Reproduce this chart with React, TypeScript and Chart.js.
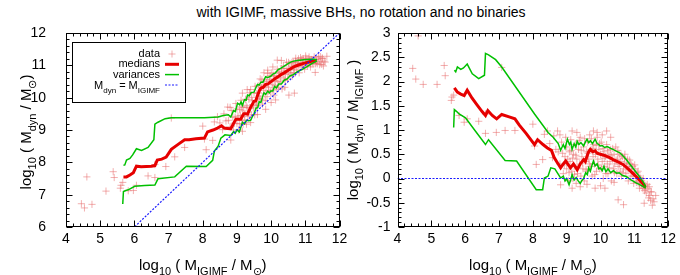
import React, { useEffect, useRef } from "react";
import { Chart, registerables } from "chart.js";
Chart.register(...registerables);

const FONT = '"Liberation Sans", Arial, Helvetica, sans-serif';

// x = log10(M_IGIMF), r = log10(M_dyn / M_IGIMF)
const dataPoints: [number, number][] = [
  [4.45, 2.27], [4.54, 2.05], [4.61, 2.94], [4.76, 1.94], [5.17, 1.94], [5.38, 2.33], [5.41, 2.12],
  [5.59, 1.61], [5.61, 1.68], [5.66, 1.72], [5.82, 1.30], [5.97, 1.16], [6.06, 1.23], [6.40, 1.18],
  [6.60, 1.33], [6.60, 0.93], [6.92, 0.95], [7.08, 2.29], [7.18, 0.99], [7.47, 0.99], [8.00, 1.12],
  [8.05, 0.67], [8.10, 0.29], [8.29, 0.39], [8.34, 0.91], [8.43, 0.98], [8.50, 0.72], [8.58, 0.43],
  [8.62, 0.88], [8.68, 0.60], [8.73, 0.98], [8.80, 0.90],
  [8.75, 0.55], [8.80, 0.30], [8.85, 0.75], [8.90, 0.10], [8.95, 0.45], [9.00, 0.20], [9.00, 0.65],
  [9.05, -0.05], [9.08, 0.55], [9.10, 0.35], [9.12, 0.80], [9.15, 0.15], [9.18, 0.00], [9.20, 0.50],
  [9.22, 0.25], [9.25, 0.70], [9.28, -0.10], [9.30, 0.40], [9.32, 0.10], [9.35, 0.60], [9.38, 0.30],
  [9.40, 0.85], [9.42, 0.05], [9.45, 0.45], [9.48, 0.20], [9.50, 0.65], [9.52, -0.05], [9.55, 0.35],
  [9.58, 0.55], [9.60, 0.15], [9.62, 0.75], [9.65, 0.40], [9.68, 0.90], [9.70, 0.25], [9.72, 0.60],
  [9.75, 0.05], [9.78, 0.45], [9.80, 0.70], [9.82, 0.30], [9.85, 0.50], [9.88, 0.15], [9.90, 0.85],
  [9.92, 0.40], [9.95, 0.60], [9.98, 0.20], [10.00, 0.50], [10.02, 0.75], [10.05, 0.35], [10.08, 0.00],
  [10.10, 0.55], [10.12, 0.25], [10.15, 0.45], [10.18, 0.70], [10.20, 0.30], [10.22, 0.10], [10.25, 0.50],
  [10.28, 0.35], [10.30, 0.60], [10.32, -0.05], [10.35, 0.40], [10.38, 0.20], [10.40, 0.50], [10.42, 0.30],
  [10.45, 0.65], [10.48, 0.10], [10.50, 0.40], [10.52, 0.25], [10.55, 0.50], [10.58, 0.15], [10.60, 0.35],
  [10.62, 0.05], [10.65, 0.45], [10.68, 0.20], [10.70, 0.30], [10.72, 0.50], [10.75, 0.10], [10.78, 0.25],
  [10.80, 0.40], [10.82, -0.05], [10.85, 0.20], [10.88, 0.30], [10.90, 0.05], [10.92, 0.15], [10.95, 0.25],
  [10.98, -0.10], [11.00, 0.10], [11.02, 0.20], [11.05, 0.00], [11.08, 0.12], [11.10, -0.05], [11.12, 0.05],
  [11.15, -0.10], [11.18, 0.00], [11.20, -0.15], [11.22, -0.05], [11.25, -0.20], [11.28, -0.10], [11.30, -0.25],
  [11.32, -0.15], [11.35, -0.30], [11.40, -0.20], [11.45, -0.35], [11.50, -0.28], [11.55, -0.42],
  [8.82, -0.13], [9.16, -0.20], [9.40, -0.17], [9.84, -0.20], [10.13, -0.20], [10.52, -0.44], [10.68, -0.54],
  [11.15, -0.20], [11.29, -0.51], [11.44, -0.17], [11.49, -0.27], [11.53, -0.55], [11.63, -0.35],
  [9.16, 0.98], [9.79, 0.98], [10.18, 0.98], [10.05, 0.90],
  [8.88, 0.52], [8.93, 0.28], [8.97, 0.85], [9.03, 0.40], [9.07, 0.12], [9.13, 0.58], [9.17, 0.42],
  [9.23, 0.08], [9.27, 0.48], [9.33, 0.22], [9.37, 0.78], [9.43, 0.58], [9.47, 0.32], [9.53, 0.82],
  [9.57, 0.18], [9.63, 0.52], [9.67, 0.30], [9.73, 0.82], [9.77, 0.62], [9.83, 0.08], [9.87, 0.68],
  [9.93, 0.28], [9.97, 0.72], [10.03, 0.20], [10.07, 0.62], [10.11, 0.42], [10.16, 0.10], [10.21, 0.58],
  [10.26, 0.22], [10.31, 0.48], [10.36, 0.62], [10.41, 0.12], [10.46, 0.38], [10.51, 0.58], [10.56, 0.30],
  [10.61, 0.48], [10.66, 0.12], [10.71, 0.42], [10.76, 0.32], [10.81, 0.18], [10.86, 0.38], [10.91, 0.28],
  [10.96, 0.05], [11.01, 0.28], [11.06, -0.08], [11.11, 0.15], [11.16, 0.02], [11.21, -0.10], [11.26, 0.00],
  [11.33, -0.22], [11.38, -0.12], [11.42, -0.40], [11.48, -0.45], [11.58, -0.48], [9.60, -0.12], [10.00, -0.15],
  [10.40, -0.08], [9.30, 0.95], [9.90, 0.95], [10.30, 0.85],
];

const medianX = [5.68, 5.77, 5.87, 5.97, 6.06, 6.2, 6.35, 6.5, 6.6, 6.67, 6.8, 6.93, 7.08, 7.3, 7.47, 7.6, 7.8, 8.05, 8.14, 8.3, 8.43, 8.55, 8.63, 8.72, 8.82, 8.9, 8.97, 9.05, 9.11, 9.2, 9.25, 9.31, 9.4, 9.5, 9.55, 9.6, 9.65, 9.7, 9.77, 9.84, 9.9, 9.99, 10.1, 10.2, 10.3, 10.37, 10.5, 10.66, 10.8, 10.95, 11.05, 11.15, 11.25, 11.32];
const medianR = [1.87, 1.78, 1.74, 1.71, 1.82, 1.66, 1.52, 1.38, 1.30, 1.40, 1.30, 1.23, 1.32, 1.27, 1.23, 1.10, 0.93, 0.70, 0.80, 0.70, 0.63, 0.58, 0.43, 0.33, 0.22, 0.30, 0.36, 0.28, 0.22, 0.30, 0.25, 0.18, 0.30, 0.39, 0.35, 0.46, 0.55, 0.60, 0.55, 0.57, 0.52, 0.50, 0.48, 0.45, 0.42, 0.39, 0.35, 0.29, 0.21, 0.11, 0.04, -0.03, -0.10, -0.19];

const upperX = [5.68, 5.72, 5.77, 5.87, 5.95, 6.06, 6.21, 6.40, 6.57, 6.60, 6.69, 6.90, 7.08, 8.05, 8.45, 8.60, 8.75, 8.82, 8.9, 8.95, 9.02, 9.08, 9.12, 9.16, 9.22, 9.27, 9.31, 9.36, 9.42, 9.5, 9.55, 9.6, 9.65, 9.7, 9.76, 9.84, 9.9, 9.95, 9.99, 10.05, 10.12, 10.2, 10.3, 10.37, 10.45, 10.57, 10.66, 10.76, 10.85, 10.95, 11.05, 11.15, 11.25, 11.34];
const upperR = [2.23, 2.20, 2.30, 2.25, 2.28, 2.36, 2.16, 2.06, 2.13, 2.58, 2.55, 2.45, 2.30, 1.33, 0.95, 0.85, 0.72, 0.58, 0.70, 0.62, 0.81, 0.70, 0.75, 0.60, 0.72, 0.65, 0.77, 0.70, 0.74, 0.67, 0.75, 0.81, 0.74, 0.78, 0.72, 0.81, 0.72, 0.70, 0.67, 0.68, 0.64, 0.66, 0.62, 0.60, 0.57, 0.53, 0.47, 0.39, 0.31, 0.22, 0.13, 0.04, -0.06, -0.17];

const lowerX = [5.66, 5.68, 5.75, 5.82, 6.01, 6.3, 6.6, 6.69, 7.18, 7.52, 8.1, 8.29, 8.34, 8.45, 8.53, 8.65, 8.82, 8.9, 8.95, 9.0, 9.07, 9.12, 9.16, 9.22, 9.28, 9.34, 9.4, 9.45, 9.5, 9.56, 9.61, 9.65, 9.7, 9.75, 9.79, 9.84, 9.9, 9.95, 9.99, 10.05, 10.1, 10.16, 10.22, 10.3, 10.38, 10.47, 10.55, 10.65, 10.76, 10.9, 11.05, 11.2, 11.34];
const lowerR = [1.05, 1.42, 1.38, 1.33, 1.25, 0.98, 0.70, 0.80, 0.37, 0.36, -0.23, -0.23, 0.01, 0.05, 0.22, 0.20, 0.01, 0.05, -0.05, 0.0, -0.13, -0.02, 0.08, -0.03, 0.02, -0.05, -0.10, -0.04, 0.0, 0.12, 0.08, 0.22, 0.15, 0.28, 0.36, 0.26, 0.30, 0.20, 0.22, 0.16, 0.25, 0.14, 0.20, 0.12, 0.16, 0.11, 0.12, 0.06, 0.04, -0.03, -0.09, -0.14, -0.20];

const xTicks = [4, 5, 6, 7, 8, 9, 10, 11, 12];
const leftYTicks = [6, 7, 8, 9, 10, 11, 12];
const rightYTicks = [-1, -0.5, 0, 0.5, 1, 1.5, 2, 2.5, 3];

const TITLE = "with IGIMF, massive BHs, no rotation and no binaries";
const LEGEND_LABELS = ["data", "medians", "variances"];

const COL_DATA = "rgba(232, 110, 110, 0.55)";
const COL_MED = "#e60000";
const COL_VAR = "#00c000";
const COL_EQ = "#1a1aff";

type Seg = { t: string; sub?: boolean };
const X_TITLE: Seg[] = [{ t: "log" }, { t: "10", sub: true }, { t: " ( M" }, { t: "IGIMF", sub: true }, { t: " / M" }, { t: "⊙", sub: true }, { t: ")" }];
const YL_TITLE: Seg[] = [{ t: "log" }, { t: "10", sub: true }, { t: " ( M" }, { t: "dyn", sub: true }, { t: " / M" }, { t: "⊙", sub: true }, { t: ")" }];
const YR_TITLE: Seg[] = [{ t: "log" }, { t: "10", sub: true }, { t: " ( M" }, { t: "dyn", sub: true }, { t: " / M" }, { t: "IGIMF", sub: true }, { t: " )" }];
const EQ_LABEL: Seg[] = [{ t: "M" }, { t: "dyn", sub: true }, { t: " = M" }, { t: "IGIMF", sub: true }];

function drawRich(ctx: CanvasRenderingContext2D, segs: Seg[], cx: number, cy: number, main: number, sub: number, rotate: boolean, align: "center" | "right" = "center") {
  ctx.save();
  ctx.translate(cx, cy);
  if (rotate) ctx.rotate(-Math.PI / 2);
  ctx.textBaseline = "alphabetic";
  ctx.textAlign = "left";
  ctx.fillStyle = "#000";
  let total = 0;
  const widths = segs.map((s) => {
    ctx.font = `${s.sub ? sub : main}px ${FONT}`;
    const w = ctx.measureText(s.t).width;
    total += w;
    return w;
  });
  let x = align === "center" ? -total / 2 : -total;
  const base = main * 0.36;
  segs.forEach((s, i) => {
    ctx.font = `${s.sub ? sub : main}px ${FONT}`;
    ctx.fillText(s.t, x, base + (s.sub ? sub * 0.45 : 0));
    x += widths[i];
  });
  ctx.restore();
}

const framePlugin = {
  id: "frameTicks",
  afterDraw(chart: any, _a: any, o: any) {
    const { ctx, chartArea: a, scales } = chart;
    const xs = scales.x, ys = scales.y;
    ctx.save();
    ctx.strokeStyle = "#000";
    ctx.lineWidth = 1;
    const L = Math.round(a.left) + 0.5, R = Math.round(a.right) - 0.5;
    const T = Math.round(a.top) + 0.5, B = Math.round(a.bottom) - 0.5;
    ctx.beginPath();
    const nx = Math.round((o.xMax - o.xMin) / o.xMinor);
    for (let i = 0; i <= nx; i++) {
      const v = o.xMin + i * o.xMinor;
      const major = Math.abs(v / o.xMajor - Math.round(v / o.xMajor)) < 1e-6;
      const len = major ? 6 : 3;
      const p = Math.round(xs.getPixelForValue(v)) + 0.5;
      ctx.moveTo(p, B); ctx.lineTo(p, B - len);
      ctx.moveTo(p, T); ctx.lineTo(p, T + len);
    }
    const ny = Math.round((o.yMax - o.yMin) / o.yMinor);
    for (let i = 0; i <= ny; i++) {
      const v = o.yMin + i * o.yMinor;
      const major = Math.abs(v / o.yMajor - Math.round(v / o.yMajor)) < 1e-6;
      const len = major ? 6 : 3;
      const p = Math.round(ys.getPixelForValue(v)) + 0.5;
      ctx.moveTo(L, p); ctx.lineTo(L + len, p);
      ctx.moveTo(R, p); ctx.lineTo(R - len, p);
    }
    ctx.stroke();
    ctx.strokeRect(L, T, R - L, B - T);
    ctx.restore();
  },
};

const titlesPlugin = {
  id: "richTitles",
  afterDraw(chart: any, _a: any, o: any) {
    const { ctx, chartArea: a } = chart;
    drawRich(ctx, o.x, (a.left + a.right) / 2, o.xY, 15, 11, false);
    drawRich(ctx, o.y, o.yX, (a.top + a.bottom) / 2 + (o.yOff || 0), 15, 11, true);
  },
};

const legendPlugin = {
  id: "keyBox",
  afterDraw(chart: any, _a: any, o: any) {
    if (!o || !o.show) return;
    const ctx: CanvasRenderingContext2D = chart.ctx;
    ctx.save();
    ctx.strokeStyle = "#000";
    ctx.lineWidth = 1;
    ctx.strokeRect(72.5, 42.5, 113, 60);
    const tx = 160, sx0 = 165, sx1 = 179;
    const ys = [54, 64.3, 74.6, 85];
    ctx.font = `11px ${FONT}`;
    ctx.fillStyle = "#000";
    ctx.textAlign = "right";
    ctx.textBaseline = "middle";
    LEGEND_LABELS.forEach((l, i) => ctx.fillText(l, tx, ys[i]));
    drawRich(ctx, EQ_LABEL, tx, ys[3], 11, 8, false, "right");
    ctx.strokeStyle = COL_DATA;
    ctx.beginPath();
    const cx = (sx0 + sx1) / 2;
    ctx.moveTo(cx - 3.5, ys[0]); ctx.lineTo(cx + 3.5, ys[0]);
    ctx.moveTo(cx, ys[0] - 3.5); ctx.lineTo(cx, ys[0] + 3.5);
    ctx.stroke();
    ctx.strokeStyle = COL_MED; ctx.lineWidth = 3;
    ctx.beginPath(); ctx.moveTo(sx0, ys[1]); ctx.lineTo(sx1, ys[1]); ctx.stroke();
    ctx.strokeStyle = COL_VAR; ctx.lineWidth = 1.5;
    ctx.beginPath(); ctx.moveTo(sx0, ys[2]); ctx.lineTo(sx1, ys[2]); ctx.stroke();
    ctx.strokeStyle = COL_EQ; ctx.lineWidth = 1.2; ctx.setLineDash([2, 1.5]);
    ctx.beginPath(); ctx.moveTo(sx0, ys[3]); ctx.lineTo(sx1, ys[3]); ctx.stroke();
    ctx.restore();
  },
};

function makeConfig(side: "left" | "right"): any {
  const isLeft = side === "left";
  const conv = (x: number, r: number) => ({ x, y: isLeft ? r + x : r });
  const pts = dataPoints.map(([x, r]) => conv(x, r));
  const med = medianX.map((x, i) => conv(x, medianR[i]));
  const up = upperX.map((x, i) => conv(x, upperR[i]));
  const lo = lowerX.map((x, i) => conv(x, lowerR[i]));
  const eq = isLeft ? [{ x: 4, y: 4 }, { x: 12, y: 12 }] : [{ x: 4, y: 0 }, { x: 12, y: 0 }];
  const yTicks = isLeft ? leftYTicks : rightYTicks;
  return {
    type: "scatter",
    data: {
      datasets: [
        { label: "data", data: pts, pointStyle: "cross", pointRadius: 3.6, pointBorderColor: COL_DATA, borderColor: COL_DATA, pointBorderWidth: 1, showLine: false, order: 4 },
        { label: "medians", data: med, showLine: true, borderColor: COL_MED, borderWidth: 3, pointRadius: 0, tension: 0, order: 3 },
        { label: "var+", data: up, showLine: true, borderColor: COL_VAR, borderWidth: 1.5, pointRadius: 0, tension: 0, order: 2 },
        { label: "var-", data: lo, showLine: true, borderColor: COL_VAR, borderWidth: 1.5, pointRadius: 0, tension: 0, order: 2 },
        { label: "eq", data: eq, showLine: true, borderColor: COL_EQ, borderWidth: 1.2, borderDash: [2, 1.5], pointRadius: 0, tension: 0, order: 1 },
      ],
    },
    options: {
      animation: false,
      responsive: false,
      devicePixelRatio: 1,
      events: [],
      layout: { padding: { top: 33, right: isLeft ? 30.5 : 8, left: 0, bottom: 0 } },
      scales: {
        x: {
          type: "linear", min: 4, max: 12,
          afterBuildTicks: (s: any) => { s.ticks = xTicks.map((v) => ({ value: v })); },
          afterFit: (s: any) => { s.height = 48; },
          grid: { display: false, drawTicks: false },
          border: { display: false },
          ticks: { padding: 4, autoSkip: false, maxRotation: 0, color: "#000", font: { size: 14, family: FONT }, callback: (v: any) => String(v) },
        },
        y: {
          type: "linear", min: isLeft ? 6 : -1, max: isLeft ? 12 : 3,
          afterBuildTicks: (s: any) => { s.ticks = yTicks.map((v) => ({ value: v })); },
          afterFit: (s: any) => { s.width = isLeft ? 66 : 67.5; },
          grid: { display: false, drawTicks: false },
          border: { display: false },
          ticks: { padding: isLeft ? 20 : 7, autoSkip: false, color: "#000", font: { size: 14, family: FONT }, callback: (v: any) => String(v) },
        },
      },
      plugins: {
        legend: { display: false },
        tooltip: { enabled: false },
        frameTicks: isLeft
          ? { xMin: 4, xMax: 12, xMinor: 0.2, xMajor: 1, yMin: 6, yMax: 12, yMinor: 0.2, yMajor: 1 }
          : { xMin: 4, xMax: 12, xMinor: 0.2, xMajor: 1, yMin: -1, yMax: 3, yMinor: 0.1, yMajor: 0.5 },
        richTitles: { x: X_TITLE, xY: 265, y: isLeft ? YL_TITLE : YR_TITLE, yX: isLeft ? 25.5 : 22.5, yOff: isLeft ? 2 : 0 },
        keyBox: { show: isLeft },
      },
    },
    plugins: [framePlugin, titlesPlugin, legendPlugin],
  };
}

function Panel({ side, left, width }: { side: "left" | "right"; left: number; width: number }) {
  const ref = useRef<HTMLCanvasElement | null>(null);
  useEffect(() => {
    if (!ref.current) return;
    const chart = new Chart(ref.current, makeConfig(side));
    return () => chart.destroy();
  }, [side]);
  return <canvas ref={ref} width={width} height={275} style={{ position: "absolute", left, top: 0, width, height: 275 }} />;
}

export default function App() {
  return (
    <div style={{ position: "fixed", left: 0, top: 0, width: 680, height: 275, overflow: "hidden", background: "#fff" }}>
      <div style={{ position: "absolute", left: 0, top: 4, width: 722, textAlign: "center", font: `14px ${FONT}`, color: "#000", whiteSpace: "nowrap" }}>{TITLE}</div>
      <Panel side="left" left={0} width={370} />
      <Panel side="right" left={330} width={350} />
    </div>
  );
}
